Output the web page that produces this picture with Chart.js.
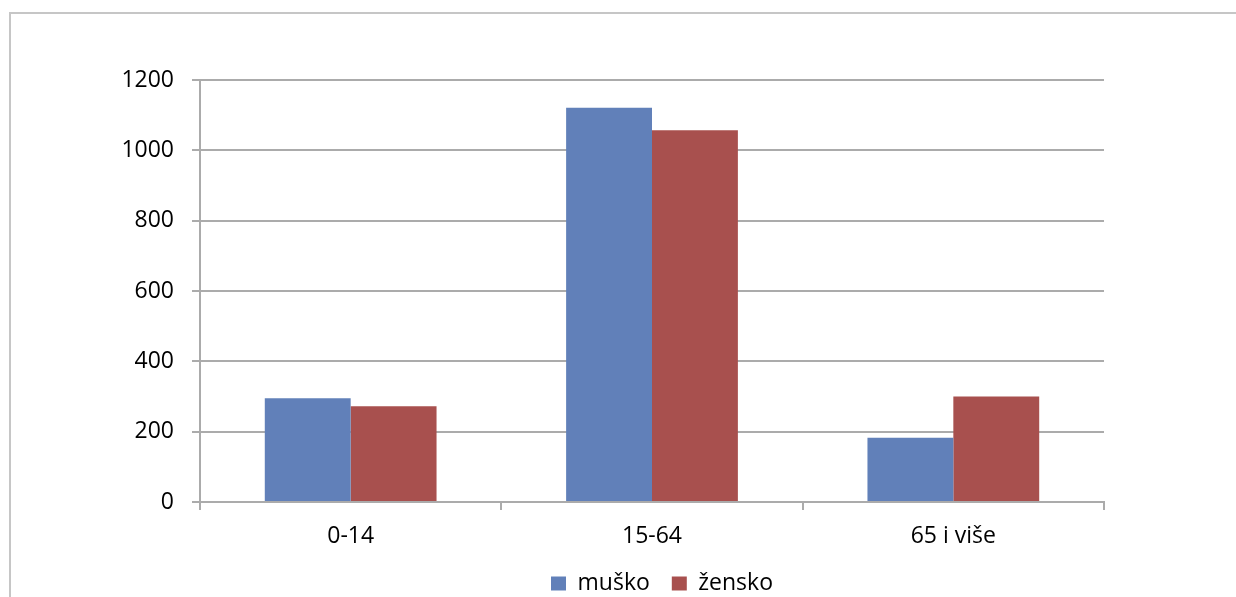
<!DOCTYPE html>
<html>
<head>
<meta charset="utf-8">
<script src="https://cdn.jsdelivr.net/npm/chart.js@4/dist/chart.umd.min.js"></script>
<style>
  html, body { margin: 0; padding: 0; background: #fff; overflow: hidden; }
  #frame {
    position: absolute; left: 9px; top: 12px; width: 1400px; height: 800px;
    border-left: 2px solid #c6c6c6; border-top: 2px solid #c6c6c6;
  }
  #wrap { position: absolute; left: 0; top: 0; width: 1236px; height: 597px; }
</style>
</head>
<body>
<div id="frame"></div>
<div id="wrap"><canvas id="chart" width="1236" height="597"></canvas></div>
<script>
'use strict';

const categories = [ '0-14', '15-64', '65 i više', ];
const muskoValues = [ 295, 1121, 183, ];
const zenskoValues = [ 272, 1057, 300, ];
const yTicks = [ 0, 200, 400, 600, 800, 1000, 1200, ];

const BlueColor = '#6180b9';
const RedColor = '#a8504e';
const GridColor = '#ababab';
const TextColor = '#000000';

const fontFamily = '"Open Sans", "Noto Sans", sans-serif';
const fontSize = 23;

let data = {
  labels: categories,
  datasets: [{
    label: 'muško',
    data: muskoValues,
    backgroundColor: BlueColor,
    borderWidth: 0,
  }, {
    label: 'žensko',
    data: zenskoValues,
    backgroundColor: RedColor,
    borderWidth: 0,
  }],
};

let options = {
  responsive: false,
  animation: false,
  layout: {
    // legend spans 88..1236, so it centres under the plot like the original
    padding: { top: 80, right: 0, left: 88, bottom: -8, },
  },
  datasets: {
    bar: {
      categoryPercentage: 0.57,
      barPercentage: 1,
    },
  },
  plugins: {
    legend: {
      position: 'bottom',
      labels: {
        boxWidth: 15,
        boxHeight: 14,
        padding: 22,
        color: TextColor,
        font: { size: fontSize, family: fontFamily, },
      },
    },
    tooltip: { enabled: false, },
  },
  scales: {
    x: {
      afterFit: (scale) => { scale.height = 48; },
      grid: {
        offset: true,
        drawOnChartArea: false,
        tickLength: 8,
        color: GridColor,
        lineWidth: 2,
      },
      border: { color: GridColor, width: 2, },
      ticks: {
        color: TextColor,
        padding: 13,
        font: { size: fontSize, family: fontFamily, },
      },
    },
    y: {
      min: 0,
      max: 1200,
      afterFit: (scale) => { scale.width = 112; },
      afterBuildTicks: (scale) => { scale.ticks = yTicks.map((v) => ({ value: v, })); },
      grid: {
        tickLength: 8,
        color: GridColor,
        lineWidth: 2,
      },
      border: { color: GridColor, width: 2, },
      ticks: {
        color: TextColor,
        padding: 18,
        font: { size: fontSize, family: fontFamily, },
        callback: (value) => String(value),
      },
    },
    // empty right-hand axis: keeps the plot's right edge where the original has it
    spacer: {
      type: 'linear',
      position: 'right',
      min: 0,
      max: 1,
      afterFit: (scale) => { scale.width = 132; },
      grid: { display: false, },
      border: { display: false, },
      ticks: { display: false, },
    },
  },
};

new Chart(document.getElementById('chart'), {
  type: 'bar',
  data: data,
  options: options,
});
</script>
</body>
</html>
